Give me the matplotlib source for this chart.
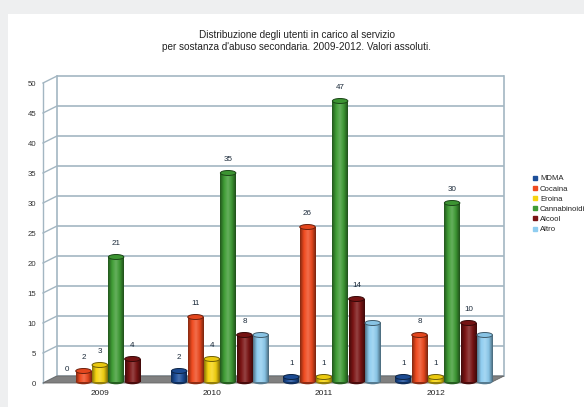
import numpy as np
import matplotlib
matplotlib.use("Agg")
import matplotlib.pyplot as plt
from matplotlib.patches import Rectangle, Ellipse, Polygon
from matplotlib.lines import Line2D
from matplotlib.colors import LinearSegmentedColormap, to_rgb

plt.rcParams["font.family"] = ["Liberation Sans", "DejaVu Sans"]

# ---- data -------------------------------------------------------------
years = ["2009", "2010", "2011", "2012"]
series_names = ["MDMA", "Cocaina", "Eroina", "Cannabinoidi", "Alcool", "Altro"]
mdma = [0, 2, 1, 1]
cocaina = [2, 11, 26, 8]
eroina = [3, 4, 1, 1]
cannabinoidi = [21, 35, 47, 30]
alcool = [4, 8, 14, 10]
altro = [0, 8, 10, 8]
series_values = [mdma, cocaina, eroina, cannabinoidi, alcool, altro]
show_labels = [True, True, True, True, True, False]
y_ticks = list(range(0, 51, 5))

colors = ["#1d4f9a", "#ef4a1f", "#f6d410", "#3f9c35", "#7b1414", "#8fcdf0"]

title = ("Distribuzione degli utenti in carico al servizio\n"
         "per sostanza d'abuso secondaria. 2009-2012. Valori assoluti.")

# ---- figure -----------------------------------------------------------
W, H = 584, 407
fig = plt.figure(figsize=(W / 100, H / 100), dpi=100)
fig.patch.set_facecolor("#eeeff0")
fig.patches.append(Rectangle((8 / W, 0), 1, (H - 14) / H, transform=fig.transFigure,
                             facecolor="white", edgecolor="none", zorder=-5))

ax = fig.add_axes([43 / W, (H - 383) / H, (490 - 43) / W, 300 / H])
ax.set_facecolor("none")
ax.set_zorder(1)
px_x, px_y = 112.0, 6.0          # pixels per data unit
xl = -0.56
xr = xl + 447 / px_x
ddx, ddy = 14 / px_x, 7 / px_y   # depth offset of the back wall

grid_c = "#a3b6c2"
# back wall grid
for v in y_ticks:
    ax.plot([xl + ddx, xr + ddx], [v + ddy, v + ddy], color=grid_c, lw=1.2,
            zorder=1, clip_on=False, solid_capstyle="butt")
    ax.plot([xl, xl + ddx], [v, v + ddy], color=grid_c, lw=1.0, zorder=1, clip_on=False)
ax.plot([xl, xl], [0, 50], color=grid_c, lw=1.0, zorder=1, clip_on=False)
ax.plot([xl + ddx, xl + ddx], [ddy, 50 + ddy], color=grid_c, lw=1.2, zorder=1, clip_on=False)
ax.plot([xr + ddx, xr + ddx], [ddy, 50 + ddy], color=grid_c, lw=1.2, zorder=1, clip_on=False)

# floor
ax.add_patch(Polygon([(xl, 0), (xl + ddx, ddy), (xr + ddx, ddy), (xr, 0)],
                     closed=True, facecolor="#808080", edgecolor="#666666", lw=0.6,
                     zorder=2, clip_on=False))

# cylinders
n = len(series_names)
step = 16.3 / px_x
bw = step * 0.95
ell_h = 5 / px_y


def shade(c, f):
    r = np.array(to_rgb(c))
    if f < 1:
        return tuple(r * f)
    return tuple(r + (1 - r) * (f - 1))


for j, (name, vals, col) in enumerate(zip(series_names, series_values, colors)):
    cmap = LinearSegmentedColormap.from_list(
        name, [shade(col, 0.55), shade(col, 1.0), shade(col, 1.2), shade(col, 0.95), shade(col, 0.5)])
    for i, v in enumerate(vals):
        xc = i + (j - (n - 1) / 2) * step + 0.02
        if v > 0:
            ax.add_patch(Ellipse((xc, 0.2), bw, ell_h, facecolor=shade(col, 0.6),
                                 edgecolor="none", zorder=3, clip_on=False))
            ax.imshow(np.linspace(0, 1, 64).reshape(1, -1), cmap=cmap, aspect="auto",
                      extent=[xc - bw / 2, xc + bw / 2, 0.2, v], zorder=3.1,
                      interpolation="bilinear", clip_on=False)
            ax.add_patch(Ellipse((xc, v), bw, ell_h, facecolor=shade(col, 0.95),
                                 edgecolor=shade(col, 0.45), lw=0.7, zorder=3.2, clip_on=False))
        if show_labels[j]:
            ax.text(xc, v + 1.6, str(v), ha="center", va="bottom", fontsize=5.8,
                    color="#1b2a3a", zorder=5)

ax.set_xlim(xl, xr)
ax.set_ylim(0, 50)
ax.set_aspect("auto")
for s in ax.spines.values():
    s.set_visible(False)
ax.set_yticks(y_ticks)
ax.set_yticklabels([str(t) for t in y_ticks], fontsize=5.6, color="#333333")
ax.set_xticks([i - 0.05 for i in range(len(years))])
ax.set_xticklabels(years, fontsize=6, color="#222222")
ax.tick_params(axis="y", length=0, pad=5)
ax.tick_params(axis="x", length=0, pad=5)

# title
fig.text(297 / W, 1 - 41 / H, title, ha="center", va="center", fontsize=7.2,
         color="#222222", linespacing=1.2)

# legend
handles = [Line2D([], [], marker="s", linestyle="none", markersize=3,
                  markerfacecolor=c, markeredgecolor=c) for c in colors]
fig.legend(handles, series_names, loc="upper left", bbox_to_anchor=(533 / W, 1 - 175 / H),
           frameon=False, fontsize=5.6, handlelength=0.6, handletextpad=0.3,
           labelspacing=0.35, borderaxespad=0, borderpad=0, labelcolor="#222222")

fig.savefig("out.png", dpi=100)
